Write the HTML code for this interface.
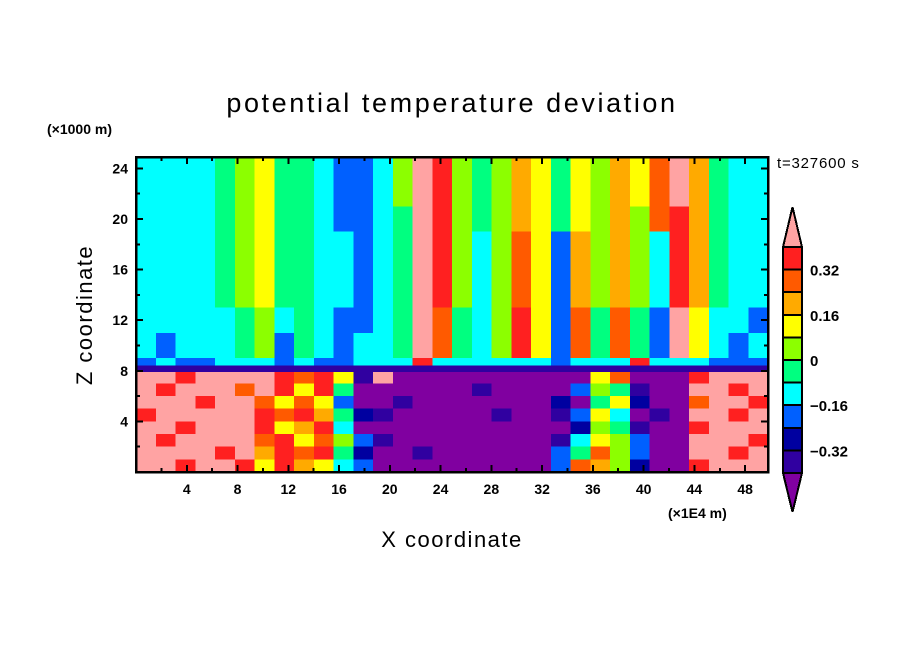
<!DOCTYPE html>
<html><head><meta charset="utf-8"><style>
body{margin:0;background:#fff;}
svg text{font-family:"Liberation Sans",sans-serif;fill:#000;}
</style></head><body>
<svg id="chart" width="904" height="654" viewBox="0 0 904 654" xmlns="http://www.w3.org/2000/svg" shape-rendering="crispEdges">
<rect width="904" height="654" fill="#fff"/>
<text x="452" y="112" font-size="27" text-anchor="middle" letter-spacing="2.6">potential temperature deviation</text>
<text x="47" y="134" font-size="14" font-weight="bold">(×1000 m)</text>
<text x="777" y="168" font-size="15" letter-spacing="0.8">t=327600 s</text>
<text transform="translate(92,315) rotate(-90)" font-size="22" text-anchor="middle" letter-spacing="1.5">Z coordinate</text>
<text x="452" y="547" font-size="22" text-anchor="middle" letter-spacing="1.5">X coordinate</text>
<text x="668" y="518" font-size="14" font-weight="bold">(×1E4 m)</text>
<g id="field"></g>
<g id="axes"></g>
<g id="cbar"></g>
</svg>
<script>
const colors=["#8000a0","#3000a0","#0000a0","#0060ff","#00ffff","#00ff80","#8cff00","#ffff00","#ffaa00","#ff5a00","#ff2020","#ffa3a3"];
const cbarLabels=["0.32","0.16","0","\u22120.16","\u22120.32"];
const xTicks=[4,8,12,16,20,24,28,32,36,40,44,48];
const yTicks=[4,8,12,16,20,24];
const xDomain=[0,49.8];
const zDomain=[0,24.9];
const gridTop=25;
const rows=[
["4444","5675","5433","46ba","6568","7576","879b","8544"],
["4444","5675","5433","46ba","6568","7576","879b","8544"],
["4444","5675","5433","46ba","6568","7576","879b","8544"],
["4444","5675","5433","46ba","6568","7576","879b","8544"],
["4444","5675","5433","45ba","6568","7576","869a","8544"],
["4444","5675","5433","45ba","6568","7576","869a","8544"],
["4444","5675","5443","45ba","6469","7386","864a","8544"],
["4444","5675","5443","45ba","6469","7386","864a","8544"],
["4444","5675","5443","45ba","6469","7386","864a","8544"],
["4444","5675","5443","45ba","6469","7386","864a","8544"],
["4444","5675","5443","45ba","6469","7386","864a","8544"],
["4444","5675","5443","45ba","6469","7386","864a","8544"],
["4444","4564","5433","45b9","546a","7395","953b","7443"],
["4444","4564","5433","45b9","546a","7395","953b","7443"],
["4344","4563","5434","45b9","546a","7395","953b","7434"],
["4344","4563","5434","45b9","546a","7395","953b","7434"],
["3433","4443","4334","44a4","4444","4344","4a44","4333"],
["bbab","bbba","9a71","b000","0000","0007","9000","abbb"],
["babb","b9ba","7a50","0000","0100","0036","5100","bbab"],
["bbba","bb97","9730","0100","0000","0205","7200","9bba"],
["abbb","bba9","a852","1000","0010","0137","4010","bbab"],
["bbab","bba7","8a40","0000","0000","0026","5100","abbb"],
["babb","bb9a","7963","1000","0000","0147","6300","bbba"],
["bbbb","ab8a","9a52","0010","0000","0359","6300","bbab"],
["bbab","ba7a","8743","0000","0000","0398","6200","abbb"]
].map(g=>g.join(""));
const PX0=136,PX1=768,PY0=157,PY1=472;
const sx=v=>PX0+(v-xDomain[0])/(xDomain[1]-xDomain[0])*(PX1-PX0);
const sz=v=>PY1-(v-zDomain[0])/(zDomain[1]-zDomain[0])*(PY1-PY0);
const NS="http://www.w3.org/2000/svg";
function mk(tag,attrs,parent){const e=document.createElementNS(NS,tag);for(const k in attrs)e.setAttribute(k,attrs[k]);parent.appendChild(e);return e;}
const field=document.getElementById('field');
const nC=32;
rows.forEach((row,r)=>{
  for(let c=0;c<nC;c++){
    const lv=parseInt(row[c]||"4",16);
    const x0=sx(xDomain[0]+(xDomain[1]-xDomain[0])*c/nC), x1=sx(xDomain[0]+(xDomain[1]-xDomain[0])*(c+1)/nC);
    const yTop=Math.max(PY0,sz(gridTop-r)), yBot=sz(gridTop-r-1);
    const el=mk('rect',{x:x0,y:yTop,width:x1-x0+0.5,height:Math.max(0,yBot-yTop+0.5),fill:colors[lv]},field);
    
    
  }
});
const band=mk('rect',{x:PX0,y:sz(8.4),width:PX1-PX0,height:sz(7.9)-sz(8.4),fill:"#3000a0"},field);


const axes=document.getElementById('axes');
const frame=mk('rect',{x:PX0,y:PY0,width:PX1-PX0,height:PY1-PY0,fill:"none",stroke:"#000","stroke-width":2.5},axes);


for(let v=2;v<=48;v+=2){
  const x=sx(v),L=(v%4===0)?7:4;
  mk('line',{x1:x,y1:PY1,x2:x,y2:PY1-L,stroke:"#000","stroke-width":2},axes);
  mk('line',{x1:x,y1:PY0,x2:x,y2:PY0+L,stroke:"#000","stroke-width":2},axes);
}
for(let v=2;v<=24;v+=2){
  const y=sz(v),L=(v%4===0)?7:4;
  mk('line',{x1:PX0,y1:y,x2:PX0+L,y2:y,stroke:"#000","stroke-width":2},axes);
  mk('line',{x1:PX1,y1:y,x2:PX1-L,y2:y,stroke:"#000","stroke-width":2},axes);
}
xTicks.forEach(v=>{const t=mk('text',{x:sx(v),y:PY1+22,"font-size":14,"font-weight":"bold","text-anchor":"middle"},axes);t.textContent=v;

});
yTicks.forEach(v=>{const t=mk('text',{x:PX0-8,y:sz(v)+5,"font-size":14,"font-weight":"bold","text-anchor":"end"},axes);t.textContent=v;

});
const cb=document.getElementById('cbar');
const CX0=783,CX1=802,CY0=247,CY1=473,nb=10,bh=(CY1-CY0)/nb;
const up=mk('polygon',{points:`${CX0},${CY0} ${(CX0+CX1)/2},207 ${CX1},${CY0}`,fill:colors[11],stroke:"#000","stroke-width":2},cb);


const dn=mk('polygon',{points:`${CX0},${CY1} ${(CX0+CX1)/2},512 ${CX1},${CY1}`,fill:colors[0],stroke:"#000","stroke-width":2},cb);


for(let i=0;i<nb;i++){
  const b=mk('rect',{x:CX0,y:CY0+i*bh,width:CX1-CX0,height:bh,fill:colors[10-i],stroke:"#000","stroke-width":2},cb);
  
  
}
cbarLabels.forEach((s,i)=>{const t=mk('text',{x:810,y:CY0+bh*(1+2*i)+6,"font-size":15,"font-weight":"bold"},cb);t.textContent=s;

});
</script>
</body></html>
